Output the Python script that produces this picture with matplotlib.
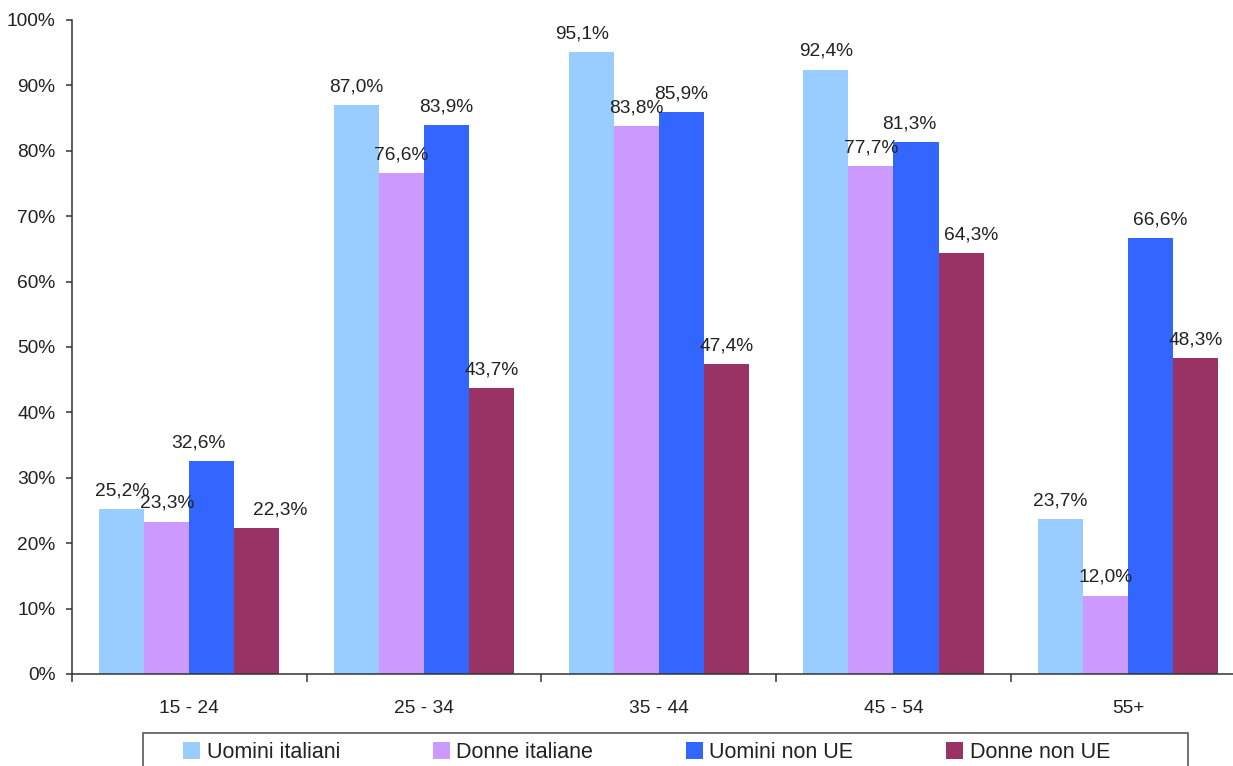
import matplotlib
matplotlib.use("Agg")
import matplotlib.pyplot as plt
import numpy as np
from matplotlib.patches import Rectangle
from matplotlib.ticker import FixedLocator, FuncFormatter

categories = ["15 - 24", "25 - 34", "35 - 44", "45 - 54", "55+"]
series_names = ["Uomini italiani", "Donne italiane", "Uomini non UE", "Donne non UE"]
uomini_italiani = [25.2, 87.0, 95.1, 92.4, 23.7]
donne_italiane = [23.3, 76.6, 83.8, 77.7, 12.0]
uomini_non_ue = [32.6, 83.9, 85.9, 81.3, 66.6]
donne_non_ue = [22.3, 43.7, 47.4, 64.3, 48.3]
series = [uomini_italiani, donne_italiane, uomini_non_ue, donne_non_ue]
colors = ["#99CCFF", "#CC99FF", "#3366FF", "#993366"]

# label nudges (pixels) for overlapping labels: (group, series) -> dx
label_dx = {(0, 2): -13, (0, 3): 23, (2, 0): -9, (3, 2): -7, (3, 3): 10, (4, 2): 10}

plt.rcParams['font.family'] = ['Liberation Sans', 'DejaVu Sans']
W, H = 1233, 766
fig = plt.figure(figsize=(W / 100, H / 100), dpi=100)
ax = fig.add_axes([72 / W, 1 - 674 / H, (1245.5 - 72) / W, 654 / H])

x = np.arange(len(categories))
bw = 0.192
offsets = (np.arange(4) - 1.5) * bw
txtc = "#222222"
for si, (vals, col) in enumerate(zip(series, colors)):
    bars = ax.bar(x + offsets[si], vals, width=bw, color=col, label=series_names[si], zorder=2)
    for gi, (b, v) in enumerate(zip(bars, vals)):
        dx = label_dx.get((gi, si), 0) * 0.72
        ax.annotate(f"{v:.1f}%".replace(".", ","), (b.get_x() + b.get_width() / 2, v),
                    xytext=(dx, 7), textcoords="offset points", ha="center", va="bottom",
                    fontsize=13.8, color=txtc)

ax.set_xlim(-0.5, len(categories) - 0.5)
ax.set_ylim(0, 100)
ax.set_yticks(np.arange(0, 101, 10))
ax.yaxis.set_major_formatter(FuncFormatter(lambda v, p: f"{int(v)}%"))
ax.set_xticks(x)
ax.set_xticklabels(categories)
ax.xaxis.set_minor_locator(FixedLocator(np.arange(-0.5, len(categories), 1.0)))
ax.tick_params(axis="x", which="major", length=0, pad=19, labelsize=13.8, colors=txtc)
ax.tick_params(axis="x", which="minor", length=6, width=1.1, direction="out", color="#333333")
ax.tick_params(axis="y", length=4, width=1.1, direction="out", pad=8, labelsize=13.8, colors=txtc, color="#333333")
for s in ["top", "right"]:
    ax.spines[s].set_visible(False)
for s in ["left", "bottom"]:
    ax.spines[s].set_color("#333333")
    ax.spines[s].set_linewidth(1.1)

# legend frame
fig.patches.append(Rectangle((143 / W, -0.05), (1188 - 143) / W, (1 - 733 / H) + 0.05,
                             transform=fig.transFigure, facecolor="white",
                             edgecolor="#666666", linewidth=1.3, zorder=0))
handles, labels = ax.get_legend_handles_labels()
fig.legend(handles, labels, loc="upper left", bbox_to_anchor=(183 / W, 1 - 742 / H),
           ncol=4, frameon=False, fontsize=15.5, handlelength=0.8, handleheight=0.8,
           handletextpad=0.3, columnspacing=4.3, borderpad=0, borderaxespad=0,
           labelcolor=txtc)

fig.savefig("out.png", dpi=100)
